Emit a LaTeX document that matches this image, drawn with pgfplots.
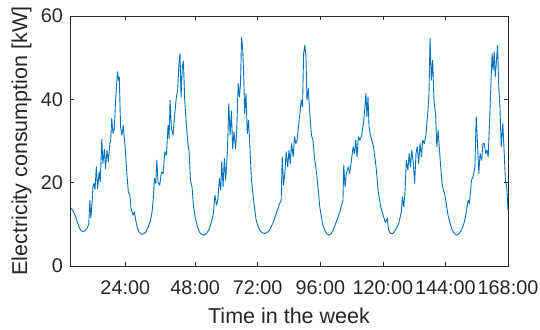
\documentclass[border=0pt]{standalone}
\usepackage{pgfplots}
\pgfplotsset{compat=1.18}
\usepackage{fontspec}
\setmainfont{Liberation Sans}
\definecolor{mblue}{rgb}{0,0.447,0.741}
\definecolor{axgray}{rgb}{0.15,0.15,0.15}
\begin{document}
\begin{tikzpicture}
\begin{axis}[
 scale only axis, width=438pt, height=250pt,
 xmin=0, xmax=168, ymin=0, ymax=60,
 xtick={21.2,48,72,96,120,144,168},
 xticklabels={24:00,48:00,72:00,96:00,120:00,144:00,168:00},
 ytick={0,20,40,60},
 tick align=inside,
 major tick length=4.4pt,
 axis line style={axgray, line width=0.6pt},
 every tick/.style={axgray, line width=0.6pt},
 tick label style={font=\fontsize{19.8}{23}\selectfont, text=axgray, inner sep=0pt},
 xticklabel style={anchor=north, yshift=-14pt},
 yticklabel style={anchor=east, xshift=-7pt},
 label style={font=\fontsize{21.5}{25}\selectfont, text=axgray},
 xlabel={Time in the week},
 ylabel={Electricity consumption [kW]},
 xlabel style={at={(axis description cs:0.5,-0.198)}, anchor=center},
 ylabel style={at={(axis description cs:-0.1103,0.5)}, anchor=center},
 /pgf/number format/assume math mode=true,
]
\addplot[mblue, line width=0.9pt, line join=round] coordinates {
(0,14.2)(1.0,13.4)(2.2,11.8)(3.3,9.6)(4.1,8.6)(4.9,8.3)(5.7,8.4)(6.5,9.0)(7.2,10.0)(7.6,15.8)(8.0,11.6)(8.5,15.4)(8.8,19.0)(9.2,19.8)(9.6,18.4)(10.1,23.8)(10.6,18.6)(11.2,22.6)(11.6,20.2)(12.2,30.4)(12.6,24.6)(13.2,28.0)(13.6,23.4)(14.2,27.8)(14.7,25.0)(15.3,29.4)(15.6,30.0)(16.0,35.4)(16.5,31.8)(17.0,33.0)(17.5,39.8)(18.2,46.6)(18.6,44.6)(18.9,45.4)(19.4,33.4)(19.9,31.4)(20.4,33.8)(20.9,30.2)(21.4,26.2)(21.8,22.2)(22.4,17.6)(22.9,17.4)(23.4,13.8)(24.2,12.2)(24.7,13.0)(25.2,11.0)(25.9,9.0)(26.6,8.1)(27.4,7.6)(28.2,7.7)(29.1,8.2)(30.0,9.4)(30.8,10.8)(31.4,12.6)(31.9,15.8)(32.4,21.0)(32.9,19.8)(33.3,25.4)(33.8,20.0)(34.4,19.4)(35.1,22.6)(35.7,22.2)(36.4,27.4)(37.0,26.6)(37.6,33.8)(38.0,30.6)(38.4,39.8)(38.9,33.0)(39.5,31.4)(40.2,36.6)(40.8,40.6)(41.3,42.2)(41.8,48.6)(42.2,51.0)(42.6,40.6)(43.1,47.8)(43.5,49.2)(44.0,39.8)(44.7,33.4)(45.2,29.4)(45.7,27.4)(46.2,20.6)(46.8,19.0)(47.4,14.2)(48.0,11.8)(48.9,9.4)(49.6,8.2)(50.4,7.6)(51.5,7.4)(52.5,7.9)(53.3,8.8)(54.1,10.2)(55.0,12.6)(55.6,17.0)(56.2,14.6)(56.7,15.8)(57.3,21.0)(57.8,18.2)(58.2,25.0)(58.7,19.0)(59.2,25.8)(59.7,20.6)(60.4,27.8)(60.9,39.0)(61.4,31.4)(61.9,37.2)(62.4,28.2)(62.9,32.2)(63.5,28.2)(64.0,33.0)(64.5,43.8)(65.0,40.6)(65.4,43.8)(65.8,54.9)(66.2,52.6)(66.6,46.2)(67.0,36.6)(67.5,41.4)(68.0,31.8)(68.5,35.0)(69.0,28.6)(69.6,20.6)(70.4,15.8)(71.4,11.0)(72.2,9.4)(73.0,8.4)(74.0,7.9)(74.8,7.8)(75.6,8.0)(76.5,8.6)(77.8,10.2)(79.1,12.6)(80.4,15.0)(81.0,15.8)(81.4,26.2)(81.9,19.4)(82.4,22.2)(82.9,27.4)(83.5,23.8)(84.0,27.8)(84.5,24.6)(85.0,29.4)(85.6,26.2)(86.1,31.0)(86.6,29.4)(87.1,30.2)(87.9,35.0)(88.7,39.8)(89.2,38.2)(89.6,51.0)(90.1,53.0)(90.5,50.2)(90.9,39.8)(91.4,42.6)(91.9,37.4)(92.6,31.4)(93.2,30.2)(93.8,25.8)(94.3,23.8)(95.1,19.0)(95.8,14.2)(96.4,11.8)(97.0,9.8)(97.7,8.6)(98.5,7.7)(99.4,7.4)(100.2,7.8)(100.9,8.6)(101.9,10.2)(102.7,11.6)(103.5,13.0)(104.7,15.8)(105.0,24.2)(105.5,19.0)(106.0,22.2)(106.7,23.8)(107.3,22.2)(108.1,26.2)(108.6,28.6)(109.1,27.0)(109.6,30.2)(110.1,26.2)(110.6,31.0)(111.2,30.2)(111.9,31.4)(112.7,35.0)(113.1,38.2)(113.5,41.4)(113.9,35.8)(114.3,40.6)(114.7,33.4)(115.1,31.8)(116.4,28.6)(117.4,23.8)(118.3,17.4)(119.2,14.2)(120.3,11.8)(121.0,10.4)(121.7,11.4)(122.2,8.6)(123.0,7.8)(123.8,7.8)(124.8,8.6)(126.1,10.2)(127.1,13.0)(127.5,16.6)(128.0,14.2)(128.5,17.8)(129.0,25.4)(129.6,23.0)(130.1,27.0)(130.6,23.8)(131.1,27.8)(131.7,24.6)(132.2,19.8)(132.7,27.0)(133.2,28.6)(133.7,24.6)(134.3,29.4)(134.8,26.2)(135.3,30.2)(135.9,29.4)(136.6,31.8)(137.2,36.6)(137.7,41.4)(138.1,54.6)(138.6,44.6)(139.1,49.4)(139.6,39.8)(140.2,36.6)(140.7,28.6)(141.2,32.6)(141.9,26.2)(142.7,19.8)(143.2,18.2)(143.7,17.4)(145.0,12.2)(145.8,10.2)(146.5,8.8)(147.4,7.8)(148.3,7.4)(149.2,7.8)(150.1,8.6)(151.0,10.0)(151.7,11.8)(152.7,15.8)(153.2,15.0)(154.0,20.6)(154.6,21.4)(155.3,23.8)(155.8,35.8)(156.3,29.4)(156.8,22.2)(157.3,27.0)(157.9,25.4)(158.4,29.4)(158.9,29.4)(159.4,27.0)(159.9,27.8)(160.4,26.2)(161.0,35.8)(161.5,44.6)(161.9,51.0)(162.3,47.0)(162.7,51.4)(163.1,45.4)(163.5,48.6)(164.0,53.0)(164.4,43.8)(164.9,38.2)(165.4,28.6)(166.0,34.2)(166.5,27.8)(167.0,20.6)(167.5,19.0)(168.0,13.4)
};
\end{axis}
\pgfresetboundingbox
\path (-70pt,-63pt) rectangle (470pt,266pt);
\end{tikzpicture}
\end{document}
